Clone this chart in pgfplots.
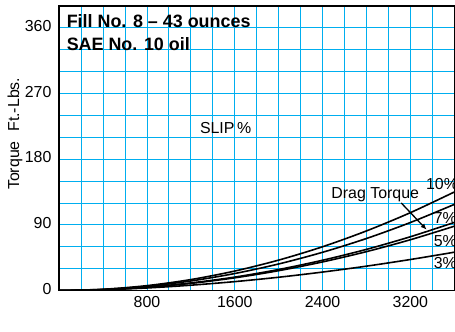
\documentclass[border=0pt]{standalone}
\usepackage{fontspec}
\setmainfont{Liberation Sans}
\usepackage{pgfplots}
\pgfplotsset{compat=1.18}
\usetikzlibrary{arrows.meta}
\definecolor{gridcyan}{RGB}{0,174,239}
\begin{document}
\begin{tikzpicture}
\begin{axis}[
  scale only axis, width=395.7bp, height=285bp,
  xmin=0, xmax=3600, ymin=0, ymax=390,
  xtick={800,1600,2400,3200}, ytick={0,90,180,270,360},
  minor xtick={200,400,600,1000,1200,1400,1800,2000,2200,2600,2800,3000,3400},
  minor ytick={30,60,120,150,210,240,300,330},
  grid=both,
  grid style={gridcyan, line width=0.9pt},
  major grid style={gridcyan, line width=0.9pt},
  minor grid style={gridcyan, line width=0.9pt},
  tick style={gridcyan},
  major tick length=0pt, minor tick length=0pt,
  axis line style={line width=1.5bp, black},
  tick label style={font=\fontsize{16}{18}\selectfont},
  xticklabel style={anchor=base, yshift=-17.3bp},
  yticklabel style={anchor=base east, xshift=-4.3bp, yshift=-3.7bp},
  /pgf/number format/assume math mode=true,
  /pgf/number format/1000 sep={},
]
\addplot[black, line width=1.6bp, smooth] coordinates {(0,0) (400,1.7) (800,6.7) (1200,15.0) (1600,26.7) (2000,41.7) (2400,60.0) (2800,81.7) (3200,106.7) (3600,135.0)};
\addplot[black, line width=1.6bp, smooth] coordinates {(0,0) (400,1.5) (800,5.8) (1200,13.1) (1600,23.3) (2000,36.4) (2400,52.4) (2800,71.3) (3200,93.2) (3600,118.0)};
\addplot[black, line width=1.6bp, smooth] coordinates {(0,0) (400,1.2) (800,4.6) (1200,10.4) (1600,18.4) (2000,28.8) (2400,41.5) (2800,56.4) (3200,73.7) (3600,93.3)};
\addplot[black, line width=1.6bp, smooth] coordinates {(0,0) (400,1.1) (800,4.4) (1200,9.8) (1600,17.4) (2000,27.2) (2400,39.2) (2800,53.3) (3200,69.6) (3600,88.1)};
\addplot[black, line width=1.6bp, smooth] coordinates {(0,0) (400,1.0) (800,3.5) (1200,7.3) (1600,12.2) (2000,18.2) (2400,25.3) (2800,33.4) (3200,42.5) (3600,52.5)};
\node[anchor=base west, inner sep=0pt, font=\fontsize{18}{20}\selectfont\bfseries] at (axis cs:67,360.8) {Fill No. 8 -- 43 ounces};
\node[anchor=base west, inner sep=0pt, font=\fontsize{18}{20}\selectfont\bfseries] at (axis cs:67,329.1) {SAE No. 10 oil};
\node[font=\fontsize{16}{18}\selectfont] at (axis cs:1517,223) {SLIP\,\%};
\node[font=\fontsize{16}{18}\selectfont] at (axis cs:2880,131.4) {Drag Torque};
\draw[line width=1.3bp, -{Latex[length=6bp,width=5bp]}] (axis cs:3117,120) -- (axis cs:3348,83.4);
\node[overlay, anchor=west, inner sep=0pt, font=\fontsize{16}{18}\selectfont] at (axis cs:3342,146.4) {10\%};
\node[overlay, anchor=west, inner sep=0pt, font=\fontsize{16}{18}\selectfont] at (axis cs:3412,99.5) {7\%};
\node[overlay, anchor=west, inner sep=0pt, font=\fontsize{16}{18}\selectfont] at (axis cs:3412,68.4) {5\%};
\node[overlay, anchor=west, inner sep=0pt, font=\fontsize{16}{18}\selectfont] at (axis cs:3412,37.9) {3\%};
\node[anchor=base, font=\fontsize{16}{18}\selectfont] at (axis cs:1626,0) [yshift=-34.8bp] {Input Speed RPM};
\end{axis}
\node[rotate=90, font=\fontsize{16}{18}\selectfont] at ([xshift=-44.3bp, yshift=157bp]current axis.south west) {Torque\hspace{0.6em}Ft.-Lbs.};
\path ([xshift=-59.3bp, yshift=-41bp]current axis.south west) -- ([yshift=6bp]current axis.north east);
\end{tikzpicture}
\end{document}
